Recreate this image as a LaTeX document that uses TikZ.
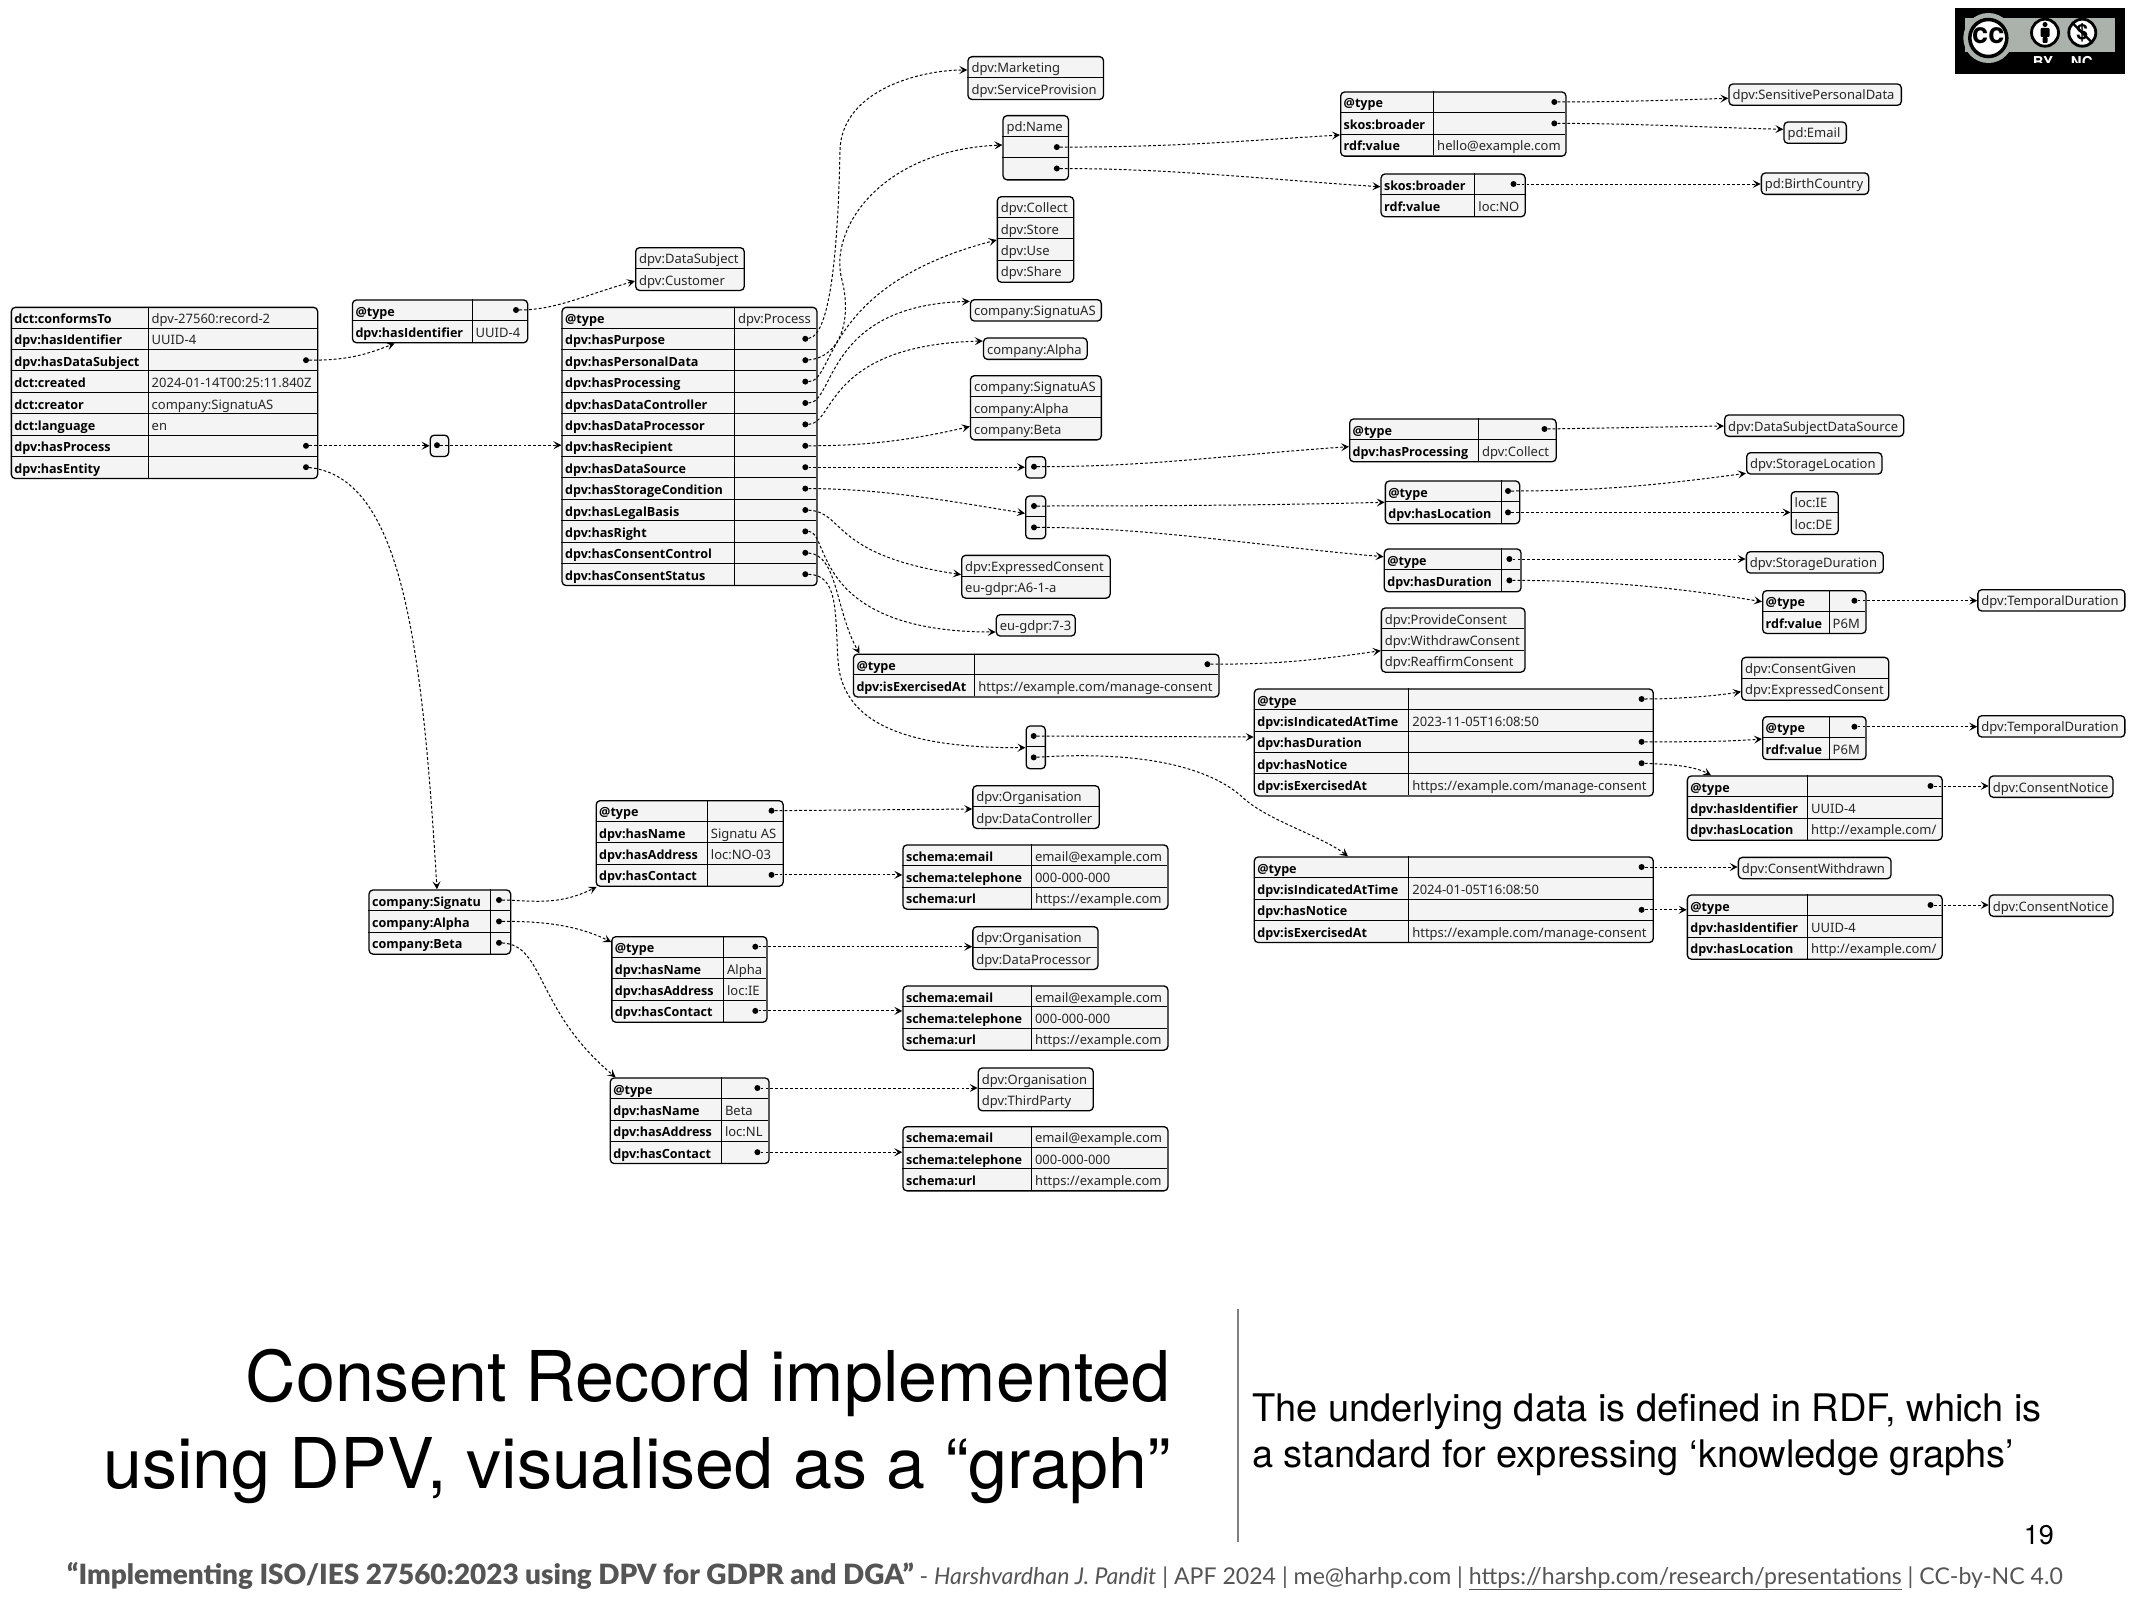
\documentclass[tikz,border=0pt]{standalone}
\usepackage{fontspec}
\setmainfont{Noto Sans}
\newfontfamily\keyfont{Open Sans}
\newfontfamily\titlefont{TeX Gyre Heros}
\newfontfamily\footfont{Lato}
\newfontfamily\footblack{Lato Black}
\usetikzlibrary{arrows.meta}
\definecolor{cellfill}{HTML}{F4F4F4}
\definecolor{footgrey}{HTML}{555555}
\definecolor{bandgrey}{HTML}{AAB2AB}
\tikzset{
  jframe/.style={draw=black,fill=cellfill,line width=1.3pt,rounded corners=4pt,inner sep=0pt,anchor=north west},
  jrule/.style={black,line width=0.9pt},
  jdot/.style={circle,fill=black,inner sep=0pt,minimum size=6pt},
  jkey/.style={anchor=west,inner sep=0pt,text height=12pt,text depth=0pt,font=\keyfont\fontsize{12.6}{14}\selectfont\bfseries},
  jval/.style={anchor=west,inner sep=0pt,text height=12pt,text depth=0pt,font=\fontsize{13}{15}\selectfont,black!85},
  link/.style={black,line width=1pt,dash pattern=on 2.8pt off 2.1pt,-{Stealth[length=8pt,width=8pt,inset=3.5pt]}},
  biglabel/.style={inner sep=0pt,font=\titlefont\fontsize{70}{87}\selectfont,align=right,anchor=south east},
  smalllabel/.style={inner sep=0pt,font=\titlefont\fontsize{38}{46}\selectfont,align=left,anchor=south west},
}
\def\jstar{*}
\newcommand{\jtable}[6]{%
  \foreach \jk/\jv [count=\ji] in {#6}{\xdef\jn{\ji}}
  \pgfmathsetmacro{\jw}{#5-#2}
  \pgfmathsetmacro{\jh}{\jn*21.4}
  \node[jframe,minimum width=\jw pt,minimum height=\jh pt] (#1) at (#2,#3) {};
  \draw[jrule] (#4,#3) -- (#4,#3+\jh);
  \foreach \jk/\jv [count=\ji] in {#6}{
    \pgfmathsetmacro{\jy}{#3+(\ji-0.5)*21.4}
    \pgfmathsetmacro{\jb}{#3+\ji*21.4}
    \ifnum\ji<\jn \draw[jrule] (#2,\jb) -- (#5,\jb); \fi
    \node[jkey] (#1-k\ji) at (#2+3.5,\jy) {\jk};
    \ifx\jv\jstar
      \node[jdot] (#1-\ji) at (#5-11,\jy) {};
    \else
      \node[jval] (#1-v\ji) at (#4+3.5,\jy) {\jv};
    \fi
  }
}
\newcommand{\jlist}[5]{%
  \foreach \jv [count=\ji] in {#5}{\xdef\jn{\ji}}
  \pgfmathsetmacro{\jw}{#4-#2}
  \pgfmathsetmacro{\jh}{\jn*21.4}
  \node[jframe,minimum width=\jw pt,minimum height=\jh pt] (#1) at (#2,#3) {};
  \foreach \jv [count=\ji] in {#5}{
    \pgfmathsetmacro{\jy}{#3+(\ji-0.5)*21.4}
    \pgfmathsetmacro{\jb}{#3+\ji*21.4}
    \ifnum\ji<\jn \draw[jrule] (#2,\jb) -- (#4,\jb); \fi
    \ifx\jv\jstar
      \node[jdot] (#1-\ji) at (#4-11,\jy) {};
    \else
      \node[jval] (#1-v\ji) at (#2+4,\jy) {\jv};
    \fi
  }
}
\begin{document}
\begin{tikzpicture}[x=1pt,y=-1pt]
\path[use as bounding box] (0,0) rectangle (2134,1600);

\jtable{rec}{10.7}{306.7}{148}{317}{dct:conformsTo/dpv-27560:record-2,dpv:hasIdentifier/UUID-4,dpv:hasDataSubject/*,dct:created/2024-01-14T00:25:11.840Z,dct:creator/company:SignatuAS,dct:language/en,dpv:hasProcess/*,dpv:hasEntity/*}
\jtable{subj}{351.8}{299.3}{472}{527}{@type/*,dpv:hasIdentifier/UUID-4}
\jlist{subjtype}{635}{247}{743.6}{dpv:DataSubject,dpv:Customer}
\jlist{bn1}{429.6}{434.5}{448}{*}
\jtable{proc}{561.4}{306.7}{734.4}{816.3}{@type/dpv:Process,dpv:hasPurpose/*,dpv:hasPersonalData/*,dpv:hasProcessing/*,dpv:hasDataController/*,dpv:hasDataProcessor/*,dpv:hasRecipient/*,dpv:hasDataSource/*,dpv:hasStorageCondition/*,dpv:hasLegalBasis/*,dpv:hasRight/*,dpv:hasConsentControl/*,dpv:hasConsentStatus/*}

\jlist{purpose}{967.3}{56}{1102.9}{dpv:Marketing,dpv:ServiceProvision}
\jlist{pdata}{1002.4}{115}{1067.8}{pd:Name,*,*}
\jlist{oper}{996.7}{196}{1073}{dpv:Collect,dpv:Store,dpv:Use,dpv:Share}
\jlist{ctrl}{969.8}{299}{1100.7}{company:SignatuAS}
\jlist{cproc}{982.8}{337.3}{1086.5}{company:Alpha}
\jlist{recip}{969.8}{375}{1100.7}{company:SignatuAS,company:Alpha,company:Beta}
\jlist{bn2}{1025}{456}{1045}{*}
\jlist{bn3}{1025}{495.3}{1045}{*,*}
\jlist{basis}{961}{554.7}{1109.5}{dpv:ExpressedConsent,eu-gdpr:A6-1-a}
\jlist{rights}{995.6}{614}{1074.6}{eu-gdpr:7-3}
\jtable{exer}{852.8}{653.5}{974.6}{1218.4}{@type/*,dpv:isExercisedAt/{https://example.com/manage-consent}}
\jlist{bn4}{1025.5}{725.3}{1044.7}{*,*}

\jtable{hello}{1340}{91.3}{1433.5}{1565.3}{@type/*,skos:broader/*,rdf:value/hello@example.com}
\jtable{skos}{1380.4}{173.3}{1474.7}{1524.5}{skos:broader/*,rdf:value/loc:NO}
\jlist{sens}{1728.3}{83.3}{1900.7}{dpv:SensitivePersonalData}
\jlist{email}{1783.3}{121.3}{1845.7}{pd:Email}
\jlist{birth}{1760.7}{172.3}{1868}{pd:BirthCountry}

\jtable{dsrc}{1349}{418.3}{1478.4}{1555.5}{@type/*,dpv:hasProcessing/dpv:Collect}
\jlist{dsrctype}{1724}{414.3}{1903}{dpv:DataSubjectDataSource}
\jtable{sloc}{1384.7}{480.3}{1501}{1519}{@type/*,dpv:hasLocation/*}
\jlist{sloctype}{1746}{452}{1881.3}{dpv:StorageLocation}
\jlist{locs}{1790.5}{491}{1837.6}{loc:IE,loc:DE}
\jtable{sdur}{1383.6}{548.3}{1501}{1520.4}{@type/*,dpv:hasDuration/*}
\jlist{sdurtype}{1745.7}{551}{1882.5}{dpv:StorageDuration}
\jtable{pone}{1762}{590}{1829}{1865.4}{@type/*,rdf:value/P6M}
\jlist{tempone}{1977.2}{589}{2124.2}{dpv:TemporalDuration}
\jlist{ctrls}{1380.7}{607.3}{1524.3}{dpv:ProvideConsent,dpv:WithdrawConsent,dpv:ReaffirmConsent}

\jtable{cone}{1253.6}{688.3}{1408.6}{1652.6}{@type/*,dpv:isIndicatedAtTime/2023-11-05T16:08:50,dpv:hasDuration/*,dpv:hasNotice/*,dpv:isExercisedAt/{https://example.com/manage-consent}}
\jlist{given}{1741}{656.7}{1888}{dpv:ConsentGiven,dpv:ExpressedConsent}
\jtable{ptwo}{1762}{716}{1829}{1865.4}{@type/*,rdf:value/P6M}
\jlist{temptwo}{1977.2}{715}{2124.2}{dpv:TemporalDuration}
\jtable{none}{1686.7}{775.3}{1807.5}{1941.5}{@type/*,dpv:hasIdentifier/UUID-4,dpv:hasLocation/{http://example.com/}}
\jlist{cnone}{1988.6}{775.3}{2112.3}{dpv:ConsentNotice}
\jtable{ctwo}{1253.6}{856.3}{1408.6}{1652.6}{@type/*,dpv:isIndicatedAtTime/2024-01-05T16:08:50,dpv:hasNotice/*,dpv:isExercisedAt/{https://example.com/manage-consent}}
\jlist{withdrawn}{1737.7}{856.7}{1890.4}{dpv:ConsentWithdrawn}
\jtable{ntwo}{1686.7}{894.3}{1807.5}{1941.5}{@type/*,dpv:hasIdentifier/UUID-4,dpv:hasLocation/{http://example.com/}}
\jlist{cntwo}{1988.6}{894.3}{2112.3}{dpv:ConsentNotice}

\jtable{ent}{368.4}{889.3}{490.4}{510}{company:Signatu/*,company:Alpha/*,company:Beta/*}
\jtable{sig}{595.5}{800}{707.2}{782.5}{@type/*,dpv:hasName/Signatu AS,dpv:hasAddress/loc:NO-03,dpv:hasContact/*}
\jtable{alpha}{611.2}{936}{723.4}{766.3}{@type/*,dpv:hasName/Alpha,dpv:hasAddress/loc:IE,dpv:hasContact/*}
\jtable{beta}{609.6}{1077.3}{721.3}{768.4}{@type/*,dpv:hasName/Beta,dpv:hasAddress/loc:NL,dpv:hasContact/*}
\jlist{orgone}{972.2}{785}{1098.5}{dpv:Organisation,dpv:DataController}
\jlist{orgtwo}{972.2}{926}{1097.4}{dpv:Organisation,dpv:DataProcessor}
\jlist{orgthree}{977.6}{1067.3}{1092.6}{dpv:Organisation,dpv:ThirdParty}
\jtable{mailone}{902.3}{844.3}{1031.3}{1167.3}{schema:email/email@example.com,schema:telephone/000-000-000,schema:url/{https://example.com}}
\jtable{mailtwo}{902.3}{985.3}{1031.3}{1167.3}{schema:email/email@example.com,schema:telephone/000-000-000,schema:url/{https://example.com}}
\jtable{mailthree}{902.3}{1126}{1031.3}{1167.3}{schema:email/email@example.com,schema:telephone/000-000-000,schema:url/{https://example.com}}

\draw[link] (rec-3) .. controls +(40,0) and +(-30,12) .. (subj.south west -| 394.6,0);
\draw[link] (subj-1) .. controls +(40,0) and +(-50,14) .. (subjtype.west |- 0,281);
\draw[link] (rec-7) -- (bn1.west |- rec-7);
\draw[link] (bn1-1) -- (proc.west |- bn1-1);
\draw[link] (rec-8) .. controls +(95,10) and +(-15,-250) .. (ent.north west -| 437,0);

\draw[link] (proc-2) .. controls +(25,-3) and (838,250) .. (840,150) .. controls (842,90) and (920,70) .. (purpose.west |- 0,70);
\draw[link] (proc-3) .. controls +(35,-3) and (852,320) .. (842,280) .. controls (828,230) and (880,150) .. (pdata.west |- 0,145);
\draw[link] (proc-4) .. controls (835,382) and (822,285) .. (oper.west |- 0,240);
\draw[link] (proc-5) .. controls (835,403) and (825,305) .. (ctrl.west |- 0,301.4);
\draw[link] (proc-6) .. controls (835,424) and (825,345) .. (cproc.west |- 0,341);
\draw[link] (proc-7) .. controls +(60,0) and +(-60,14) .. (recip.west |- 0,426.5);
\draw[link] (proc-8) -- (bn2.west |- proc-8);
\draw[link] (proc-9) .. controls +(70,0) and +(-90,-15) .. (bn3.west |- 0,513.4);
\draw[link] (proc-10) .. controls (845,512) and (830,555) .. (basis.west |- 0,574.6);
\draw[link] (proc-11) .. controls (830,531) and (810,632) .. (rights.west |- 0,632);
\draw[link] (proc-12) .. controls (838,555) and (835,610) .. (exer.north west -| 859.5,0);
\draw[link] (proc-13) .. controls (838,575) and (835,610) .. (838,660) .. controls (842,730) and (920,748) .. (bn4.west |- 0,747.7);

\draw[link] (pdata-2) .. controls +(120,0) and +(-100,6) .. (hello.west |- 0,135);
\draw[link] (pdata-3) .. controls +(120,0) and +(-100,-6) .. (skos.west |- 0,186.7);
\draw[link] (hello-1) .. controls +(60,0) and +(-60,2) .. (sens.west |- 0,98.3);
\draw[link] (hello-2) .. controls +(80,0) and +(-80,-2) .. (email.west |- 0,129.3);
\draw[link] (skos-1) -- (birth.west |- skos-1);

\draw[link] (bn2-1) .. controls +(120,0) and +(-120,8) .. (dsrc.west |- 0,446.7);
\draw[link] (dsrc-1) -- (dsrctype.west |- 0,426);
\draw[link] (bn3-1) .. controls +(120,0) and +(-120,3) .. (sloc.west |- 0,502.3);
\draw[link] (bn3-2) .. controls +(120,0) and +(-120,-10) .. (sdur.west |- 0,556.7);
\draw[link] (sloc-1) .. controls +(90,0) and +(-90,12) .. (sloctype.west |- 0,473.3);
\draw[link] (sloc-2) -- (locs.west |- sloc-2);
\draw[link] (sdur-1) -- (sdurtype.west |- sdur-1);
\draw[link] (sdur-2) .. controls +(90,0) and +(-90,-15) .. (pone.west |- 0,601.7);
\draw[link] (pone-1) -- (tempone.west |- pone-1);
\draw[link] (exer-1) .. controls +(70,0) and +(-70,10) .. (ctrls.west |- 0,650.7);

\draw[link] (bn4-1) -- (cone.west |- 0,737);
\draw[link] (bn4-2) .. controls (1150,750) and (1210,770) .. (1240,795) .. controls (1265,820) and (1320,835) .. (ctwo.north west -| 1348,0);
\draw[link] (cone-1) .. controls +(30,0) and +(-30,5) .. (given.west |- 0,691.7);
\draw[link] (cone-3) .. controls +(40,0) and +(-40,3) .. (ptwo.west |- 0,739);
\draw[link] (cone-4) .. controls +(25,1) and +(-18,-10) .. (none.north west -| 1711,0);
\draw[link] (ptwo-1) -- (temptwo.west |- ptwo-1);
\draw[link] (none-1) -- (cnone.west |- none-1);
\draw[link] (ctwo-1) -- (withdrawn.west |- ctwo-1);
\draw[link] (ctwo-3) -- (ntwo.west |- ctwo-3);
\draw[link] (ntwo-1) -- (cntwo.west |- ntwo-1);

\draw[link] (ent-1) .. controls +(30,0) and +(-40,20) .. (sig.south west -| 596.6,0);
\draw[link] (ent-2) .. controls +(30,0) and +(-40,-20) .. (alpha.west |- 0,942);
\draw[link] (ent-3) .. controls (545,945) and (535,1010) .. (beta.north west -| 615.6,0);
\draw[link] (sig-1) -- (orgone.west |- 0,809);
\draw[link] (sig-4) -- (mailone.west |- sig-4);
\draw[link] (alpha-1) -- (orgtwo.west |- alpha-1);
\draw[link] (alpha-4) -- (mailtwo.west |- alpha-4);
\draw[link] (beta-1) -- (orgthree.west |- beta-1);
\draw[link] (beta-4) -- (mailthree.west |- beta-4);

\fill[black] (1955,8.3) rectangle (2125,74);
\begin{scope}
\clip (1955,8.3) rectangle (2125,62.7);
\fill[bandgrey] (1965,18) rectangle (2115,51.7);
\fill[bandgrey] (1988.3,38) circle (25);
\node[font=\titlefont\bfseries\fontsize{15}{15}\selectfont,text=white,inner sep=0pt,anchor=north] (ccby) at (2043,56.5) {BY};
\node[font=\titlefont\bfseries\fontsize{15}{15}\selectfont,text=white,inner sep=0pt,anchor=north] (ccnc) at (2081.7,56.5) {NC};
\end{scope}
\draw[black,fill=white,line width=3.5pt] (1988.3,38) circle (18.5);
\node[font=\titlefont\bfseries\fontsize{29}{29}\selectfont,inner sep=0pt] (cclogo) at (1988.3,36) {cc};
\draw[black,fill=white,line width=2.8pt] (2045,32.7) circle (13.5);
\fill[black] (2045,24.5) circle (2.5);
\fill[black,rounded corners=1pt] (2040.5,28) rectangle (2049.5,37) (2042.5,37) rectangle (2047.5,43);
\draw[black,fill=white,line width=2.8pt] (2082.3,32.7) circle (13.5);
\node[font=\titlefont\bfseries\fontsize{21}{21}\selectfont,inner sep=0pt] (ccdollar) at (2082.3,32.7) {\$};
\draw[black,line width=2.2pt] (2072.5,23) -- (2092,42.5);

\node[biglabel] (heading) at (1170.5,1504) {Consent Record implemented\\using DPV, visualised as a “graph”};
\draw[black!50,line width=2pt] (1237.5,1309) -- (1237.5,1542);
\node[smalllabel] (sidenote) at (1252,1476) {The underlying data is defined in RDF, which is\\a standard for expressing ‘knowledge graphs’};
\node[inner sep=0pt,font=\titlefont\fontsize{27}{27}\selectfont,anchor=south east] (pagenum) at (2054,1545) {19};
\node[inner sep=0pt,anchor=base west,text=footgrey,font=\footfont\fontsize{23.1}{28}\selectfont] (footer) at (67,1584) {{\footblack\fontsize{27.9}{28}\selectfont “Implementing ISO/IES 27560:2023 using DPV for GDPR and DGA”} - \textit{Harshvardhan J. Pandit} | APF 2024 | me@harhp.com | \underline{https://harshp.com/research/presentations} | CC-by-NC 4.0};
\end{tikzpicture}
\end{document}
